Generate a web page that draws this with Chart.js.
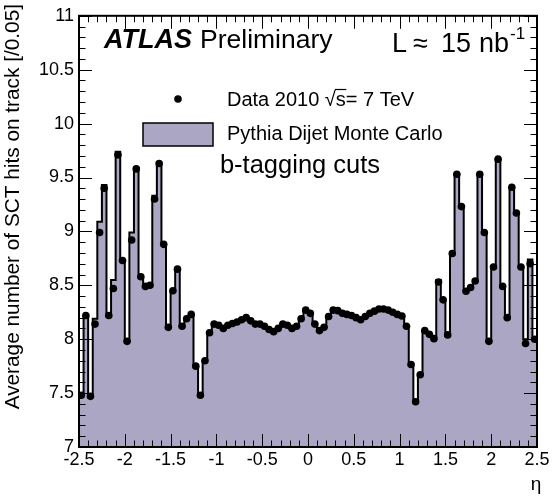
<!DOCTYPE html>
<html>
<head>
<meta charset="utf-8">
<script src="https://cdn.jsdelivr.net/npm/chart.js@4.4.1/dist/chart.umd.min.js"></script>
<style>
html,body{margin:0;padding:0;background:#fff;}
#wrap{width:558px;height:500px;position:relative;}
</style>
</head>
<body>
<div id="wrap"><canvas id="c" width="558" height="500"></canvas></div>
<script>
// eta binning: 100 bins of width 0.05 from -2.5 to 2.5
const etaMin = -2.5;
const etaMax = 2.5;
const binWidth = 0.05;

// Data 2010 (points), one value per eta bin
const dataValues = [
  7.48, 8.22, 7.47, 8.14, 8.99, 9.40, 8.22, 8.47, 9.71, 8.73,
  7.98, 8.92, 9.58, 8.58, 8.49, 8.50, 9.30, 9.63, 8.88, 8.11,
  8.45, 8.65, 8.12, 8.19, 8.23, 7.75, 7.48, 7.80, 8.06, 8.14,
  8.13, 8.10, 8.13, 8.145, 8.16, 8.18, 8.20, 8.17, 8.14, 8.14,
  8.12, 8.09, 8.07, 8.10, 8.14, 8.13, 8.10, 8.12, 8.19, 8.27,
  8.24, 8.14, 8.08, 8.11, 8.21, 8.27, 8.265, 8.24, 8.23, 8.22,
  8.20, 8.18, 8.21, 8.24, 8.26, 8.28, 8.28, 8.27, 8.25, 8.23,
  8.215, 8.12, 7.765, 7.42, 7.67, 8.08, 8.045, 8.005, 8.53, 8.365,
  8.04, 8.795, 9.53, 9.23, 8.445, 8.48, 8.54, 9.53, 8.99, 7.98,
  8.67, 9.67, 8.49, 8.20, 9.41, 9.17, 8.67, 7.96, 8.70, 8.00
];

// Pythia Dijet Monte Carlo (histogram), one value per eta bin
const mcValues = [
  7.48, 8.21, 7.47, 8.19, 9.09, 9.43, 8.22, 8.55, 9.74, 8.73,
  7.98, 8.99, 9.59, 8.58, 8.49, 8.50, 9.33, 9.64, 8.88, 8.11,
  8.45, 8.66, 8.12, 8.19, 8.23, 7.75, 7.49, 7.80, 8.06, 8.14,
  8.13, 8.10, 8.13, 8.145, 8.16, 8.18, 8.20, 8.17, 8.14, 8.14,
  8.12, 8.09, 8.07, 8.10, 8.14, 8.13, 8.10, 8.12, 8.19, 8.27,
  8.24, 8.14, 8.08, 8.11, 8.21, 8.27, 8.265, 8.24, 8.23, 8.22,
  8.20, 8.18, 8.21, 8.24, 8.26, 8.28, 8.28, 8.27, 8.25, 8.23,
  8.215, 8.12, 7.765, 7.42, 7.67, 8.08, 8.045, 8.005, 8.55, 8.365,
  8.04, 8.81, 9.53, 9.23, 8.46, 8.49, 8.55, 9.53, 8.99, 7.98,
  8.68, 9.67, 8.49, 8.20, 9.41, 9.17, 8.67, 8.00, 8.74, 8.00
];

// axis tick labels
const xTickLabels = ['-2.5','-2','-1.5','-1','-0.5','0','0.5','1','1.5','2','2.5'];
const yTickLabels = ['7','7.5','8','8.5','9','9.5','10','10.5','11'];

const FONT = '"Liberation Sans", Arial, Helvetica, sans-serif';
const FILL = 'rgb(170,166,195)';

// histogram step points at bin low edges (+ final edge)
const histPoints = mcValues.map((v, i) => ({x: etaMin + i * binWidth, y: v}));
histPoints.push({x: etaMax, y: mcValues[mcValues.length - 1]});
const dataPoints = dataValues.map((v, i) => ({x: etaMin + (i + 0.5) * binWidth, y: v}));

const framePlugin = {
  id: 'frame',
  afterDatasetsDraw(chart) {
    const {ctx, chartArea: a, scales: {x, y}} = chart;
    ctx.save();
    ctx.strokeStyle = '#000';
    ctx.lineWidth = 1;
    ctx.beginPath();
    for (let k = 0; k <= 50; k++) {
      const v = etaMin + k * 0.1;
      const px = Math.round(x.getPixelForValue(v)) + 0.5;
      const len = (k % 5 === 0) ? 13 : 6.5;
      ctx.moveTo(px, a.bottom); ctx.lineTo(px, a.bottom - len);
      ctx.moveTo(px, a.top); ctx.lineTo(px, a.top + len);
    }
    for (let k = 0; k <= 40; k++) {
      const v = 7 + k * 0.1;
      const py = Math.round(y.getPixelForValue(v)) + 0.5;
      const len = (k % 5 === 0) ? 13 : 6.5;
      ctx.moveTo(a.left, py); ctx.lineTo(a.left + len, py);
      ctx.moveTo(a.right, py); ctx.lineTo(a.right - len, py);
    }
    ctx.stroke();
    ctx.lineWidth = 2;
    ctx.strokeRect(a.left, a.top, a.right - a.left, a.bottom - a.top);
    ctx.restore();
  },
  afterDraw(chart) {
    const {ctx} = chart;
    ctx.save();
    ctx.fillStyle = '#000';
    ctx.textBaseline = 'middle';
    // y axis title
    ctx.save();
    ctx.translate(13, 4);
    ctx.rotate(-Math.PI / 2);
    ctx.textAlign = 'right';
    ctx.font = '20.8px ' + FONT;
    ctx.fillText('Average number of SCT hits on track [/0.05]', 0, 0);
    ctx.restore();
    // x axis title
    ctx.textAlign = 'center';
    ctx.font = '19px ' + FONT;
    ctx.fillText('η', 536, 485);
    // ATLAS Preliminary
    ctx.textAlign = 'left';
    ctx.font = 'italic bold 27px ' + FONT;
    ctx.fillText('ATLAS', 104, 41);
    ctx.font = '26.5px ' + FONT;
    ctx.fillText('Preliminary', 200, 41);
    // luminosity
    ctx.font = '27px ' + FONT;
    ctx.fillText('L', 392, 45);
    ctx.fillText('≈', 413, 45);
    ctx.fillText('15', 441, 45);
    ctx.fillText('nb', 479, 45);
    const nbw = ctx.measureText('nb').width;
    ctx.font = '17px ' + FONT;
    ctx.fillText('-1', 479 + nbw + 1, 34);
    // legend
    ctx.beginPath();
    ctx.arc(178, 99, 3.8, 0, Math.PI * 2);
    ctx.fill();
    ctx.font = '20px ' + FONT;
    const pre = 'Data 2010 ';
    ctx.fillText(pre + '√s= 7 TeV', 227, 100);
    const x0 = 227 + ctx.measureText(pre + '√').width;
    const x1 = 227 + ctx.measureText(pre + '√s').width;
    ctx.strokeStyle = '#000';
    ctx.lineWidth = 1.2;
    ctx.beginPath();
    ctx.moveTo(x0 - 1, 89.5); ctx.lineTo(x1 + 0.5, 89.5);
    ctx.stroke();
    ctx.fillStyle = FILL;
    ctx.fillRect(143, 123, 70, 23);
    ctx.lineWidth = 1.5;
    ctx.strokeRect(143, 123, 70, 23);
    ctx.fillStyle = '#000';
    ctx.fillText('Pythia Dijet Monte Carlo', 227, 134);
    ctx.textAlign = 'center';
    ctx.font = '25.5px ' + FONT;
    ctx.fillText('b-tagging cuts', 300, 166);
    ctx.restore();
  }
};

new Chart(document.getElementById('c'), {
  type: 'scatter',
  data: {
    datasets: [
      {
        type: 'line',
        label: 'Pythia Dijet Monte Carlo',
        data: histPoints,
        stepped: 'before',
        fill: 'start',
        backgroundColor: FILL,
        borderColor: '#000',
        borderWidth: 2,
        pointRadius: 0,
        order: 2
      },
      {
        type: 'scatter',
        label: 'Data 2010',
        data: dataPoints,
        pointRadius: 3.8,
        pointBackgroundColor: '#000',
        pointBorderColor: '#000',
        pointBorderWidth: 0,
        order: 1
      }
    ]
  },
  options: {
    responsive: false,
    animation: false,
    devicePixelRatio: 1,
    layout: {padding: {left: 0, right: 21, top: 8, bottom: 0}},
    plugins: {legend: {display: false}, tooltip: {enabled: false}},
    scales: {
      x: {
        type: 'linear',
        min: etaMin,
        max: etaMax,
        afterFit(s) { s.height = 53; },
        afterBuildTicks(s) { s.ticks = xTickLabels.map(t => ({value: parseFloat(t)})); },
        ticks: {
          color: '#000',
          font: {family: FONT, size: 18},
          padding: 2,
          maxRotation: 0,
          autoSkip: false,
          callback: (v, i) => xTickLabels[i]
        },
        grid: {display: false, drawTicks: false},
        border: {display: false}
      },
      y: {
        type: 'linear',
        min: 7,
        max: 11,
        afterFit(s) { s.width = 79; },
        afterBuildTicks(s) { s.ticks = yTickLabels.map(t => ({value: parseFloat(t)})); },
        ticks: {
          color: '#000',
          font: {family: FONT, size: 18},
          padding: 5,
          autoSkip: false,
          callback: (v, i) => yTickLabels[i]
        },
        grid: {display: false, drawTicks: false},
        border: {display: false}
      }
    }
  },
  plugins: [framePlugin]
});
</script>
</body>
</html>
